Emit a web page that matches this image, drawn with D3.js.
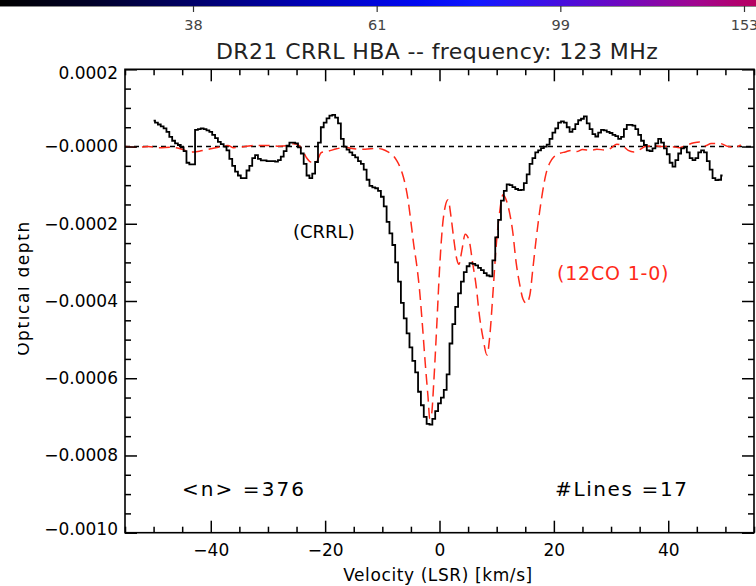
<!DOCTYPE html>
<html><head><meta charset="utf-8">
<script src="https://cdn.jsdelivr.net/npm/d3@7"></script>
<style>body{margin:0;background:#fff} svg{display:block}</style>
</head><body>
<svg id="c" width="756" height="586"></svg>
<script>
// ---------- data (optical depth in units of 1e-4) ----------
const tauUnit = 1e-4;
const crrlStartVel = -50;   // km/s, first channel
const crrlChanWidth = 0.5;  // km/s
const crrlTau = [
  0.67,0.62,0.57,0.52,0.47,0.38,0.25,0.15,0.08,0.04,
  -0.02,-0.12,-0.42,-0.46,-0.46,0.43,0.45,0.47,0.45,0.42,
  0.38,0.3,0.22,0.12,0.06,0.0,-0.1,-0.32,-0.5,-0.65,
  -0.75,-0.82,-0.82,-0.62,-0.5,-0.3,-0.22,-0.32,-0.36,-0.36,
  -0.38,-0.38,-0.38,-0.39,-0.35,-0.26,-0.12,0.02,0.1,0.1,
  0.08,-0.02,-0.18,-0.45,-0.75,-0.82,-0.7,-0.4,0.1,0.5,
  0.62,0.73,0.8,0.82,0.75,0.6,0.2,0.0,-0.08,-0.15,
  -0.22,-0.28,-0.38,-0.45,-0.6,-0.86,-1.02,-1.06,-1.08,-1.15,
  -1.3,-1.55,-1.95,-2.25,-2.55,-3.0,-3.5,-4.05,-4.45,-4.84,
  -5.2,-5.55,-5.85,-6.35,-6.7,-7.0,-7.18,-7.2,-7.05,-6.85,
  -6.65,-6.5,-6.3,-5.9,-5.1,-4.6,-4.15,-3.8,-3.5,-3.25,
  -3.1,-3.02,-3.04,-3.08,-3.14,-3.2,-3.28,-3.34,-3.36,-2.95,
  -2.35,-1.9,-1.4,-1.15,-0.98,-1.0,-1.05,-1.1,-1.13,-1.12,
  -0.95,-0.72,-0.45,-0.3,-0.15,-0.1,-0.04,0.0,0.05,0.2,
  0.36,0.47,0.62,0.65,0.62,0.5,0.38,0.45,0.58,0.68,
  0.72,0.78,0.6,0.45,0.32,0.26,0.36,0.43,0.42,0.38,
  0.35,0.3,0.27,0.2,0.25,0.45,0.56,0.56,0.54,0.45,
  0.3,0.15,0.04,-0.1,-0.12,-0.05,0.08,0.2,0.1,-0.05,
  -0.2,-0.42,-0.52,-0.35,-0.18,-0.05,-0.02,-0.15,-0.3,-0.35,
  -0.3,-0.15,-0.1,-0.15,-0.38,-0.6,-0.82,-0.87,-0.86,-0.75
];
const coVel = [-55,-53,-51,-49,-47,-45.5,-44.5,-44,-43,-42,-40,-38,-37,-36,-34,-32,-30,-28,-26.5,-25.5,
  -24.7,-24,-23.3,-22.5,-21.5,-20.7,-19.5,-18,-16.5,-15,-13,-11,-10,-9,-8,-7.5,-7,-6.5,-6,-5.5,
  -5,-4.5,-4,-3.5,-3,-2.5,-2,-1.7,-1.4,-1,-0.5,0,0.5,1,1.5,2,2.5,3,3.4,3.9,
  4.5,5.2,5.8,6.4,7,7.6,8.3,8.8,9.3,9.9,10.5,11.1,11.7,12.3,12.8,13.4,14,14.6,15.2,15.8,
  16.3,16.9,17.5,18,18.6,19.3,20,21,22,23,24,25,26.5,27.5,29,30,31,32,33,34,
  35,36,37.5,39,40.5,42,43,44.5,45.5,46.5,47.5,49,50.5,51.5,52.7];
const coTau = [0,-0.02,0,-0.03,-0.02,-0.05,-0.1,-0.15,-0.14,-0.12,-0.06,0,0.03,-0.03,0,0.03,0.03,0.01,0.02,0.07,
  0.04,-0.08,-0.28,-0.4,-0.38,-0.16,-0.12,-0.06,-0.02,-0.06,-0.07,-0.05,-0.07,-0.14,-0.25,-0.36,-0.5,-0.7,-0.98,-1.38,
  -1.95,-2.55,-3.05,-3.7,-4.6,-5.6,-6.5,-7.05,-6.95,-6.1,-4.7,-3.2,-2.1,-1.55,-1.38,-1.8,-2.4,-2.9,-3.05,-2.7,
  -2.27,-2.45,-3.02,-3.6,-4.4,-4.95,-5.4,-4.9,-3.9,-2.6,-1.72,-1.25,-1.4,-1.75,-2.2,-3.0,-3.55,-3.95,-4.06,-3.85,
  -3.2,-2.4,-1.7,-1.2,-0.72,-0.42,-0.27,-0.18,-0.14,-0.1,-0.13,-0.08,-0.1,-0.07,-0.09,-0.04,0.06,0.02,-0.1,-0.14,
  -0.08,0,0.02,0,0,-0.03,0.02,0.1,0.12,0.02,0.08,0.08,0,-0.02,0.04];

const xMajorTicks = [-40,-20,0,20,40];
const xMajorLabels = ["\u221240","\u221220","0","20","40"];
const xMinorTicks = [-55,-50,-45,-35,-30,-25,-15,-10,-5,5,10,15,25,30,35,45,50,55];
const yMajorTicks = [0.0002,0,-0.0002,-0.0004,-0.0006,-0.0008,-0.0010];
const yMajorLabels = ["0.0002","\u22120.0000","\u22120.0002","\u22120.0004","\u22120.0006","\u22120.0008","\u22120.0010"];
const yMinorTicks = [0.00015,0.0001,0.00005,-0.00005,-0.0001,-0.00015,-0.00025,-0.0003,-0.00035,-0.00045,-0.0005,-0.00055,
  -0.00065,-0.0007,-0.00075,-0.00085,-0.0009,-0.00095];
const cbarLabels = ["38","61","99","153"];
const cbarStops = [
  {o:0.00,c:"#000000"},{o:0.12,c:"#000028"},{o:0.25,c:"#000066"},{o:0.40,c:"#0000b4"},
  {o:0.55,c:"#0008f0"},{o:0.63,c:"#1018ff"},{o:0.72,c:"#3c10e6"},{o:0.82,c:"#6e08c0"},
  {o:0.92,c:"#a00690"},{o:1.00,c:"#b80060"}];

const titleText = "DR21 CRRL HBA -- frequency: 123 MHz";
const xLabelText = "Velocity (LSR) [km/s]";
const yLabelText = "Optical depth";
const crrlLabel = "(CRRL)";
const coLabel = "(12CO 1-0)";
const nLabel = "<n> =376";
const linesLabel = "#Lines =17";

// ---------- layout ----------
const svg = d3.select("#c");
const L = 125, R = 754, T = 69.3, B = 532.7;
const font = "'DejaVu Sans', sans-serif";
const x = d3.scaleLinear().domain([-55,55]).range([L,R]);
const y = d3.scaleLinear().domain([-0.0010,0.0002]).range([B,T]);

// colour bar
const defs = svg.append("defs");
const grad = defs.append("linearGradient").attr("id","cb").attr("x1","0%").attr("x2","100%");
grad.selectAll("stop").data(cbarStops).enter().append("stop")
  .attr("offset",d=>d.o).attr("stop-color",d=>d.c);
svg.append("rect").attr("x",0).attr("y",0).attr("width",756).attr("height",6).attr("fill","url(#cb)");
svg.append("line").attr("x1",0).attr("x2",756).attr("y1",6.5).attr("y2",6.5).attr("stroke","#888").attr("stroke-width",1);
const cbx = d3.scalePoint().domain(cbarLabels).range([193,744]);
const cbAxis = svg.append("g").attr("transform","translate(0,6)")
  .call(d3.axisBottom(cbx).tickSize(6).tickPadding(8));
cbAxis.select(".domain").remove();
cbAxis.selectAll("line").attr("stroke","#333").attr("stroke-width",1.2);
cbAxis.selectAll("text").attr("font-family",font).attr("font-size",14.5).attr("fill","#444");

// title
svg.append("text").attr("x",437).attr("y",59).attr("text-anchor","middle")
  .attr("font-family",font).attr("font-size",22).attr("letter-spacing",0.4).attr("fill","#222").text(titleText);

// clip
defs.append("clipPath").attr("id","plot").append("rect")
  .attr("x",L).attr("y",T).attr("width",R-L).attr("height",B-T);
defs.append("clipPath").attr("id","ylab").append("rect")
  .attr("x",18).attr("y",150).attr("width",40).attr("height",300);

const g = svg.append("g").attr("clip-path","url(#plot)");

// zero line
g.append("line").attr("x1",L).attr("x2",R).attr("y1",y(0)).attr("y2",y(0))
  .attr("stroke","#000").attr("stroke-width",1.4).attr("stroke-dasharray","5,4");

// CO dashed
const coData = coVel.map((v,i)=>({v, t:coTau[i]*tauUnit}));
g.append("path").datum(coData)
  .attr("d", d3.line().x(d=>x(d.v)).y(d=>y(d.t)).curve(d3.curveMonotoneX))
  .attr("fill","none").attr("stroke","#ff2a1a").attr("stroke-width",1.5).attr("stroke-dasharray","11,6");

// CRRL histogram
const crrlData = crrlTau.map((t,i)=>({v: crrlStartVel + i*crrlChanWidth, t: t*tauUnit}));
g.append("path").datum(crrlData)
  .attr("d", d3.line().x(d=>x(d.v)).y(d=>y(d.t)).curve(d3.curveStep))
  .attr("fill","none").attr("stroke","#000").attr("stroke-width",1.8);

// axes
function styleAxis(sel){
  sel.select(".domain").remove();
  sel.selectAll("line").attr("stroke","#000").attr("stroke-width",1.5);
  sel.selectAll("text").attr("font-family",font).attr("font-size",17).attr("fill","#000");
}
const bx = svg.append("g").attr("transform",`translate(0,${B})`)
  .call(d3.axisBottom(x).tickValues(xMajorTicks).tickFormat((d,i)=>xMajorLabels[i]).tickSizeInner(-12).tickSizeOuter(0).tickPadding(11));
styleAxis(bx);
const bxm = svg.append("g").attr("transform",`translate(0,${B})`)
  .call(d3.axisBottom(x).tickValues(xMinorTicks).tickFormat("").tickSizeInner(-6).tickSizeOuter(0));
styleAxis(bxm);
const tx = svg.append("g").attr("transform",`translate(0,${T})`)
  .call(d3.axisTop(x).tickValues(xMajorTicks).tickFormat("").tickSizeInner(-12).tickSizeOuter(0));
styleAxis(tx);
const txm = svg.append("g").attr("transform",`translate(0,${T})`)
  .call(d3.axisTop(x).tickValues(xMinorTicks).tickFormat("").tickSizeInner(-6).tickSizeOuter(0));
styleAxis(txm);

const ly = svg.append("g").attr("transform",`translate(${L},0)`)
  .call(d3.axisLeft(y).tickValues(yMajorTicks).tickFormat((d,i)=>yMajorLabels[i]).tickSizeInner(-12).tickSizeOuter(0).tickPadding(7));
styleAxis(ly);
ly.selectAll("text").attr("dy",(d,i)=> i===0 ? "0.55em" : (i===yMajorTicks.length-1 ? "0.1em" : "0.32em"));
const lym = svg.append("g").attr("transform",`translate(${L},0)`)
  .call(d3.axisLeft(y).tickValues(yMinorTicks).tickFormat("").tickSizeInner(-6).tickSizeOuter(0));
styleAxis(lym);
const ry = svg.append("g").attr("transform",`translate(${R},0)`)
  .call(d3.axisRight(y).tickValues(yMajorTicks).tickFormat("").tickSizeInner(-12).tickSizeOuter(0));
styleAxis(ry);
const rym = svg.append("g").attr("transform",`translate(${R},0)`)
  .call(d3.axisRight(y).tickValues(yMinorTicks).tickFormat("").tickSizeInner(-6).tickSizeOuter(0));
styleAxis(rym);

// frame
svg.append("rect").attr("x",L).attr("y",T).attr("width",R-L).attr("height",B-T)
  .attr("fill","none").attr("stroke","#000").attr("stroke-width",1.6);

// axis titles
svg.append("text").attr("x",438).attr("y",581).attr("text-anchor","middle")
  .attr("font-family",font).attr("font-size",17).attr("letter-spacing",0.6).attr("fill","#000").text(xLabelText);
svg.append("g").attr("clip-path","url(#ylab)")
  .append("text").attr("transform","translate(28.5,288) rotate(-90)").attr("text-anchor","middle")
  .attr("font-family",font).attr("font-size",17).attr("letter-spacing",1.6).attr("fill","#000").text(yLabelText);

// annotations
svg.append("text").attr("x",293).attr("y",238).attr("font-family",font).attr("font-size",18)
  .attr("fill","#000").text(crrlLabel);
svg.append("text").attr("x",557).attr("y",280).attr("font-family",font).attr("font-size",19)
  .attr("letter-spacing",0.8).attr("fill","#ff2a1a").text(coLabel);
svg.append("text").attr("x",182).attr("y",496).attr("font-family",font).attr("font-size",20)
  .attr("textLength",122).attr("lengthAdjust","spacing").attr("fill","#000").text(nLabel);
svg.append("text").attr("x",555).attr("y",496).attr("font-family",font).attr("font-size",20)
  .attr("textLength",132).attr("lengthAdjust","spacing").attr("fill","#000").text(linesLabel);
</script>
</body></html>
